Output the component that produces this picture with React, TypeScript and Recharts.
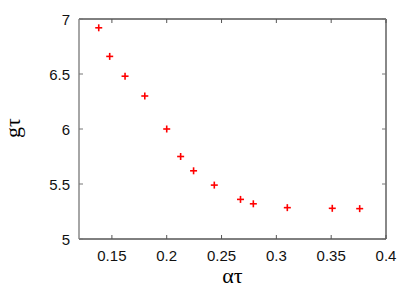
import { ScatterChart, Scatter, XAxis, YAxis, ReferenceLine } from 'recharts';

const alphaTau = [0.138, 0.148, 0.162, 0.18, 0.2, 0.2127, 0.2245, 0.2434, 0.2673, 0.279, 0.31, 0.351, 0.376];
const gTau = [6.92, 6.66, 6.48, 6.3, 6.0, 5.75, 5.62, 5.49, 5.36, 5.32, 5.285, 5.279, 5.276];
const xTicks = [0.15, 0.2, 0.25, 0.3, 0.35, 0.4];
const yTicks = [5, 5.5, 6, 6.5, 7];

const W = 415;
const H = 291;
const M = { top: 19, right: 29, left: 0, bottom: 0 };
const Y_AXIS_W = 79;
const X_AXIS_H = 52;
const PLOT_W = W - M.right - Y_AXIS_W;
const PLOT_H = H - M.top - X_AXIS_H;

const sans = '"Liberation Sans", Arial, sans-serif';
const serif = '"Liberation Serif", "Times New Roman", serif';

const data = alphaTau.map((x, i) => ({ x, y: gTau[i] }));

// ticks point inward, mirrored on the opposite border (gnuplot style)
const XTick = ({ x, y, payload }: any) => (
  <g>
    <line x1={x} x2={x} y1={y} y2={y - 4} stroke="#555" />
    <line x1={x} x2={x} y1={y - PLOT_H} y2={y - PLOT_H + 4} stroke="#555" />
    <text x={x} y={y + 21.5} textAnchor="middle" fontSize={15} fontFamily={sans} fill="#111">
      {payload.value}
    </text>
  </g>
);

const YTick = ({ x, y, payload }: any) => (
  <g>
    <line x1={x} x2={x + 4} y1={y} y2={y} stroke="#777" />
    <line x1={x + PLOT_W} x2={x + PLOT_W - 4} y1={y} y2={y} stroke="#777" />
    <text x={x - 9} y={y + 5.5} textAnchor="end" fontSize={15} fontFamily={sans} fill="#111">
      {payload.value}
    </text>
  </g>
);

const Plus = ({ cx, cy }: any) => (
  <g stroke="#ff0000" strokeWidth={1.6}>
    <line x1={cx - 3.5} x2={cx + 3.5} y1={cy} y2={cy} />
    <line x1={cx} x2={cx} y1={cy - 3.5} y2={cy + 3.5} />
  </g>
);

export default function App() {
  return (
    <div style={{ position: 'absolute', left: 0, top: 0, width: W, height: H, background: '#fff' }}>
      <ScatterChart width={W} height={H} margin={M}>
        <XAxis
          type="number"
          dataKey="x"
          domain={[0.12, 0.4]}
          ticks={xTicks}
          tick={<XTick />}
          tickLine={false}
          tickSize={0}
          tickMargin={0}
          height={X_AXIS_H}
          axisLine={{ stroke: '#000', strokeWidth: 1 }}
          allowDataOverflow
          label={{
            content: ({ viewBox }: any) => (
              <text
                x={viewBox.x + viewBox.width / 2}
                y={viewBox.y + 44}
                textAnchor="middle"
                fontSize={22}
                fontFamily={serif}
                fill="#000"
              >
                ατ
              </text>
            ),
          }}
        />
        <YAxis
          type="number"
          dataKey="y"
          domain={[5, 7]}
          ticks={yTicks}
          tick={<YTick />}
          tickLine={false}
          tickSize={0}
          tickMargin={0}
          width={Y_AXIS_W}
          axisLine={{ stroke: '#888', strokeWidth: 1.5 }}
          allowDataOverflow
          label={{
            content: ({ viewBox }: any) => {
              const lx = viewBox.x + 20;
              const ly = viewBox.y + viewBox.height / 2 - 1;
              return (
                <text
                  x={lx}
                  y={ly}
                  textAnchor="middle"
                  fontSize={22}
                  fontFamily={serif}
                  fill="#000"
                  transform={`rotate(-90, ${lx}, ${ly})`}
                >
                  gτ
                </text>
              );
            },
          }}
        />
        <ReferenceLine y={7} stroke="#000" strokeWidth={1} />
        <ReferenceLine x={0.4} stroke="#888" strokeWidth={2} />
        <Scatter data={data} shape={<Plus />} isAnimationActive={false} />
      </ScatterChart>
    </div>
  );
}
